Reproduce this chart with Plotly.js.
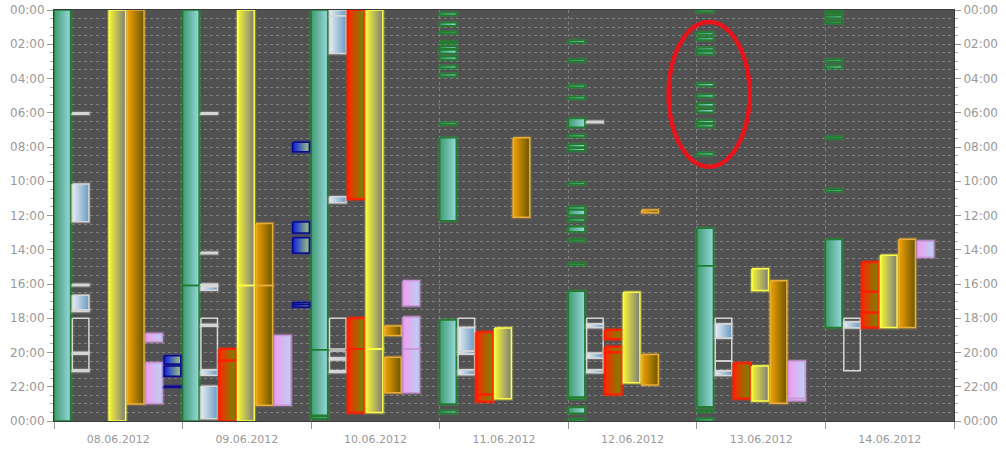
<!DOCTYPE html>
<html><head><meta charset="utf-8">
<script src="https://cdn.plot.ly/plotly-3.0.1.min.js"></script>
<style>html,body{margin:0;padding:0;background:#fff;}#chart{width:1006px;height:460px;}</style>
</head><body><div id="chart"></div>
<script>
const days = ['08.06.2012','09.06.2012','10.06.2012','11.06.2012','12.06.2012','13.06.2012','14.06.2012'];
const hourTicks = [0,2,4,6,8,10,12,14,16,18,20,22,24];
const hourLabels = ['00:00','02:00','04:00','06:00','08:00','10:00','12:00','14:00','16:00','18:00','20:00','22:00','00:00'];

// [dayIndex, start, end]
const teal = [
[0,'00:00','24:00'],
[1,'00:00','16:05'],[1,'16:05','24:00'],
[2,'00:00','19:50'],[2,'19:50','23:40'],[2,'23:45','23:52'],
[3,'00:10','00:18'],[3,'00:45','00:55'],[3,'01:16','01:22'],[3,'01:50','01:56'],[3,'02:07','02:15'],[3,'02:20','02:32'],[3,'02:44','02:53'],[3,'03:15','03:24'],[3,'03:43','03:52'],[3,'06:35','06:42'],[3,'07:28','12:18'],[3,'18:06','23:00'],[3,'23:24','23:33'],
[4,'01:47','01:55'],[4,'02:53','03:00'],[4,'04:23','04:31'],[4,'05:04','05:12'],[4,'06:20','06:51'],[4,'07:17','07:25'],[4,'07:50','08:00'],[4,'08:04','08:13'],[4,'10:04','10:11'],[4,'11:29','11:38'],[4,'11:41','11:58'],[4,'12:11','12:20'],[4,'12:39','12:57'],[4,'13:23','13:29'],[4,'14:47','14:53'],[4,'16:25','22:37'],[4,'22:37','22:43'],[4,'23:13','23:33'],[4,'23:54','24:00'],
[5,'00:00','00:07'],[5,'01:18','01:26'],[5,'01:36','01:45'],[5,'02:12','02:20'],[5,'02:26','02:35'],[5,'04:17','04:26'],[5,'04:56','05:06'],[5,'05:27','05:37'],[5,'05:48','05:58'],[5,'06:26','06:35'],[5,'06:41','06:50'],[5,'08:20','08:29'],[5,'12:45','14:56'],[5,'14:56','23:10'],[5,'23:22','23:28'],[5,'23:52','24:00'],
[6,'00:04','00:10'],[6,'00:20','00:28'],[6,'00:40','00:46'],[6,'02:53','03:00'],[6,'03:15','03:24'],[6,'07:24','07:30'],[6,'10:28','10:35'],[6,'13:24','18:32']
];
const silverFilled = [
[0,'06:00','06:05'],[0,'10:10','12:22'],[0,'16:01','16:06'],[0,'16:39','17:30'],[0,'17:30','17:36'],[0,'20:00','20:05'],[0,'21:00','21:07'],
[1,'06:00','06:05'],[1,'14:09','14:14'],[1,'16:00','16:05'],[1,'16:10','16:22'],[1,'18:22','18:27'],[1,'21:00','21:20'],[1,'21:58','23:52'],
[2,'00:00','00:20'],[2,'00:20','02:32'],[2,'10:54','11:15'],[2,'20:18','20:25'],[2,'21:04','21:10'],
[3,'18:32','19:55'],[3,'19:55','20:05'],[3,'21:00','21:18'],
[4,'06:30','06:35'],[4,'18:20','18:32'],[4,'20:03','20:20'],[4,'21:01','21:11'],
[5,'18:20','19:10'],[5,'21:04','21:21'],
[6,'18:12','18:33']
];
const silverOpen = [
[0,'18:00','20:00'],[0,'20:05','21:00'],
[1,'18:00','18:22'],[1,'18:27','21:00'],
[2,'18:00','19:48'],[2,'19:55','20:18'],[2,'20:25','21:04'],
[3,'18:00','18:32'],[3,'20:05','21:00'],
[4,'18:00','18:20'],[4,'18:32','20:03'],[4,'20:20','21:01'],
[5,'18:00','18:20'],[5,'19:10','20:30'],[5,'20:30','21:04'],
[6,'18:00','18:12'],[6,'18:33','21:04']
];
const red = [
[1,'19:48','20:28'],[1,'20:28','24:00'],
[2,'00:00','11:02'],[2,'18:00','19:48'],[2,'19:48','23:30'],
[3,'18:49','22:27'],[3,'22:27','22:52'],
[4,'18:41','19:13'],[4,'19:40','19:59'],[4,'19:59','22:26'],
[5,'20:38','22:41'],
[6,'14:44','16:27'],[6,'16:27','17:40'],[6,'17:40','18:32']
];
const yellow = [
[0,'00:00','24:00'],
[1,'00:00','16:05'],[1,'16:05','24:00'],
[2,'00:00','19:48'],[2,'19:48','23:30'],
[3,'18:34','22:42'],
[4,'16:29','21:46'],
[5,'15:07','16:23'],[5,'20:47','22:50'],
[6,'14:19','18:32']
];
const orange = [
[0,'00:00','23:00'],
[1,'12:28','16:05'],[1,'16:05','23:05'],
[2,'18:27','19:00'],[2,'20:17','22:21'],
[3,'07:28','12:06'],
[4,'11:41','11:50'],[4,'20:07','21:54'],
[5,'15:49','22:58'],
[6,'13:23','18:32']
];
const pink = [
[0,'18:53','19:22'],[0,'20:36','22:59'],
[1,'19:00','23:05'],
[2,'15:49','17:16'],[2,'17:56','19:48'],[2,'19:48','22:21'],
[5,'20:30','22:41'],[5,'22:41','22:49'],
[6,'13:29','14:26']
];
const blue = [
[0,'20:11','20:40'],[0,'20:47','21:23'],[0,'21:58','22:02'],
[1,'07:43','08:17'],[1,'12:23','13:01'],[1,'13:18','14:11'],[1,'17:05','17:12'],[1,'17:12','17:21']
];
// highlighted region (hand-drawn ellipse): [dayFrom, dayTo, hourFrom, hourTo]
const highlight = [4.78, 5.41, 0.7, 9.15];

const series = [
  {data: teal, col:0, grad:['#3f9a70','#96d8dc'], line:'#1f7d2e', glow:'rgba(40,170,60,0.3)', lw:1.5},
  {data: silverFilled, col:1, grad:['#e6edf3','#6a9cc2'], line:'#d6d6d6', glow:'rgba(220,220,220,0.2)', lw:1.5},
  {data: silverOpen, col:1, grad:null, line:'#d6d6d6', glow:null, lw:1.5},
  {data: red, col:2, grad:['#ff2800','#6f8a00'], line:'#ff1e00', glow:'rgba(255,40,0,0.4)', lw:2},
  {data: yellow, col:3, grad:['#f6f634','#7c7c7c'], line:'#ffff4a', glow:'rgba(255,255,80,0.25)', lw:1.5},
  {data: orange, col:4, grad:['#f2a200','#6c5600'], line:'#e9ae3a', glow:'rgba(240,170,40,0.25)', lw:1.5},
  {data: pink, col:5, grad:['#f29cf0','#b8d2f2'], line:'#c996d6', glow:'rgba(220,150,230,0.25)', lw:1.5},
  {data: blue, col:6, grad:['#0c1ee0','#9cc87a'], line:'#0a0a8a', glow:'rgba(30,30,200,0.3)', lw:1.5}
];

function toHours(s){const p=s.split(':');return +p[0]+ +p[1]/60;}
const colW = 1/7, barW = 0.9/7;

const traces = [];
series.forEach(s=>{
  const byDay = {};
  s.data.forEach(d=>{(byDay[d[0]]=byDay[d[0]]||[]).push(d);});
  Object.keys(byDay).forEach(k=>{
    const day=+k, x0=day+s.col*colW, x1=x0+barW;
    const xs=[], ys=[];
    byDay[k].forEach(d=>{
      const a=toHours(d[1]), b=toHours(d[2]);
      xs.push(x0,x1,x1,x0,x0,null); ys.push(a,a,b,b,a,null);
    });
    if(s.glow){
      traces.push({type:'scatter',mode:'lines',x:xs,y:ys,line:{color:s.glow,width:s.lw+2.5},hoverinfo:'skip',showlegend:false});
    }
    const t={type:'scatter',mode:'lines',x:xs,y:ys,line:{color:s.line,width:s.lw},hoverinfo:'skip',showlegend:false};
    if(s.grad){
      t.fill='toself';
      t.fillgradient={type:'horizontal',start:x0,stop:x1,colorscale:[[0,s.grad[0]],[1,s.grad[1]]]};
    } else { t.fill='none'; }
    traces.push(t);
  });
});
// helper traces for secondary axes
traces.push({type:'scatter',x:[0.5],y:[0],xaxis:'x2',yaxis:'y2',mode:'markers',marker:{opacity:0},hoverinfo:'skip',showlegend:false});

const minorVals=[]; for(let h=0;h<=24;h+=0.5){ if(h%2!==0) minorVals.push(h); }
const tickFont={family:'DejaVu Sans, Verdana, sans-serif',size:12,color:'#9a9a9a'};
const gridC='rgba(165,165,165,0.55)';
const yCommon={range:[24,0],autorange:false,tickmode:'array',tickvals:hourTicks,ticktext:hourLabels,
  ticks:'outside',ticklen:6,tickcolor:'#999',tickfont:tickFont,zeroline:false,fixedrange:true,
  minor:{tickmode:'array',tickvals:minorVals,ticks:'outside',ticklen:3,tickcolor:'#aaa',showgrid:true,gridcolor:gridC,griddash:'dot',gridwidth:1}};

const layout={
  width:1006,height:460,margin:{l:54,r:52,t:10,b:39},
  paper_bgcolor:'#ffffff',plot_bgcolor:'#515151',showlegend:false,
  xaxis:{range:[0,7],autorange:false,tickmode:'array',tickvals:[0,1,2,3,4,5,6,7],showticklabels:false,
    ticks:'outside',ticklen:7,tickcolor:'#999',showgrid:true,gridcolor:gridC,griddash:'dot',gridwidth:1,
    zeroline:false,showline:true,linecolor:'#3a3a3a',linewidth:1,mirror:true,fixedrange:true},
  xaxis2:{overlaying:'x',range:[0,7],autorange:false,tickmode:'array',tickvals:[0.5,1.5,2.5,3.5,4.5,5.5,6.5],ticktext:days,
    ticks:'outside',ticklen:8,tickcolor:'rgba(0,0,0,0)',showgrid:false,zeroline:false,side:'bottom',
    tickfont:{family:'DejaVu Sans, Verdana, sans-serif',size:11,color:'#9a9a9a'},fixedrange:true},
  yaxis:Object.assign({},yCommon,{showgrid:true,gridcolor:gridC,griddash:'dot',gridwidth:1,showline:true,linecolor:'#3a3a3a',linewidth:1,mirror:true}),
  yaxis2:Object.assign({},yCommon,{overlaying:'y',side:'right',showgrid:false,minor:Object.assign({},yCommon.minor,{showgrid:false})}),
  shapes:[{type:'circle',xref:'x',yref:'y',x0:highlight[0],x1:highlight[1],y0:highlight[2],y1:highlight[3],
    line:{color:'#e8141c',width:4.5},layer:'above'}]
};
Plotly.newPlot('chart',traces,layout,{displayModeBar:false,staticPlot:true});
</script></body></html>
